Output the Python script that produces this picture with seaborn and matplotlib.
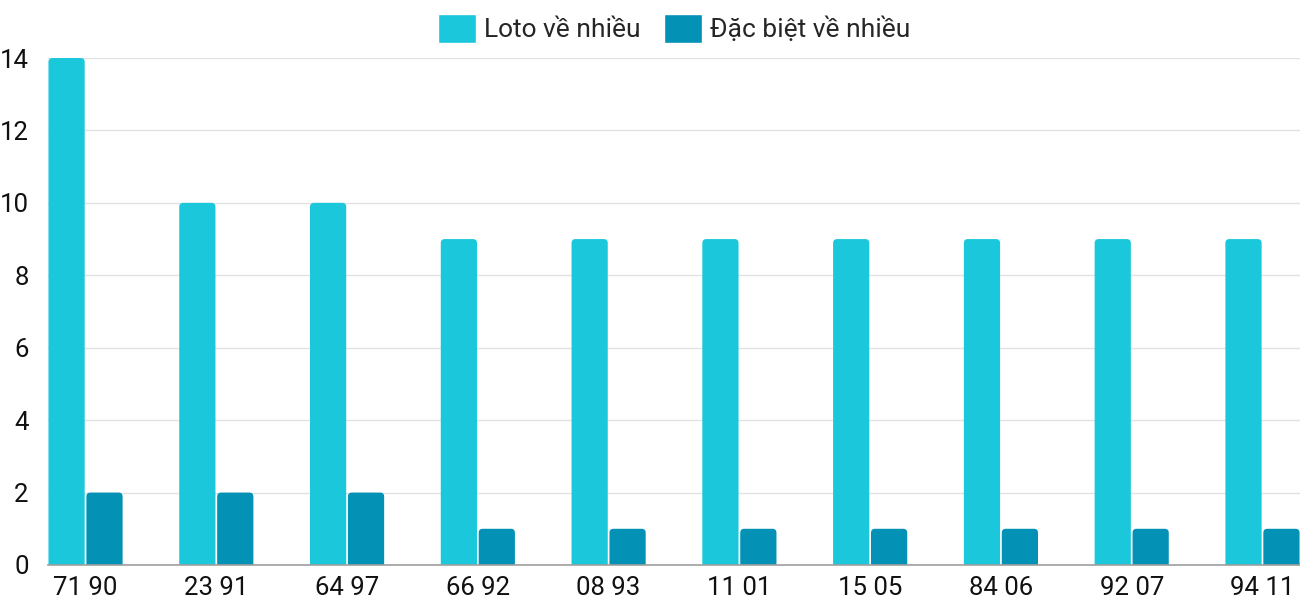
import pandas as pd
import matplotlib
matplotlib.use("Agg")
import matplotlib.pyplot as plt
from matplotlib.patches import FancyBboxPatch
import seaborn as sns

# data
pairs = ["71 90", "23 91", "64 97", "66 92", "08 93", "11 01", "15 05", "84 06", "92 07", "94 11"]
loto = [14, 10, 10, 9, 9, 9, 9, 9, 9, 9]
dacbiet = [2, 2, 2, 1, 1, 1, 1, 1, 1, 1]
series = ["Loto về nhiều", "Đặc biệt về nhiều"]

df = pd.DataFrame({
    "pair": pairs * 2,
    "count": loto + dacbiet,
    "series": [series[0]] * len(pairs) + [series[1]] * len(pairs),
})

sns.set_theme(style="white")
plt.rcParams["font.family"] = ["Roboto", "DejaVu Sans"]

fig = plt.figure(figsize=(13, 6), dpi=100)
ax = fig.add_axes([48 / 1300, 35 / 600, 1 - 48 / 1300, 507 / 600])

sns.barplot(data=df, x="pair", y="count", hue="series", hue_order=series,
            palette=["#1bc8db", "#0391b5"], width=0.58, gap=0.045,
            saturation=1, ax=ax)

ax.set_ylim(0, 14)
ax.set_xlim(-0.287, 9.287)

# legend first, so its handles keep the bar colours
ax.legend(loc="center", bbox_to_anchor=(0.5, 1.058), ncol=2, frameon=False,
          fontsize=19, handlelength=1.45, handleheight=1.35, handletextpad=0.3,
          columnspacing=0.9)

# round the top corners of the bars (bottom corners fall below y=0 and get clipped)
aspect = (14 / 507) / (9.574 / 1252)
r = 4 / 130.8
ry = r * aspect
for p in list(ax.patches):
    x, y = p.get_x(), p.get_y()
    w, h = p.get_width(), p.get_height()
    if h <= 0:
        continue
    fc = p.get_facecolor()
    p.set_visible(False)
    ax.add_patch(FancyBboxPatch((x, y - ry), w, h + ry, boxstyle=f"round,pad=0,rounding_size={r}",
                                mutation_aspect=aspect, fc=fc, ec="none", zorder=2))

ax.set_yticks(range(0, 15, 2))
ax.yaxis.grid(True, color="#e2e2e2", linewidth=1)
ax.set_axisbelow(True)
for s in ["top", "right", "left"]:
    ax.spines[s].set_visible(False)
ax.spines["bottom"].set_color("#9e9e9e")
ax.spines["bottom"].set_linewidth(1.2)
ax.spines["bottom"].set_zorder(3)
ax.tick_params(axis="y", length=0, pad=14, labelsize=18.5, labelcolor="#111111")
ax.tick_params(axis="x", length=0, pad=8, labelsize=18.5, labelcolor="#111111")
ax.set_xlabel("")
ax.set_ylabel("")

fig.savefig("out.png", dpi=100)
